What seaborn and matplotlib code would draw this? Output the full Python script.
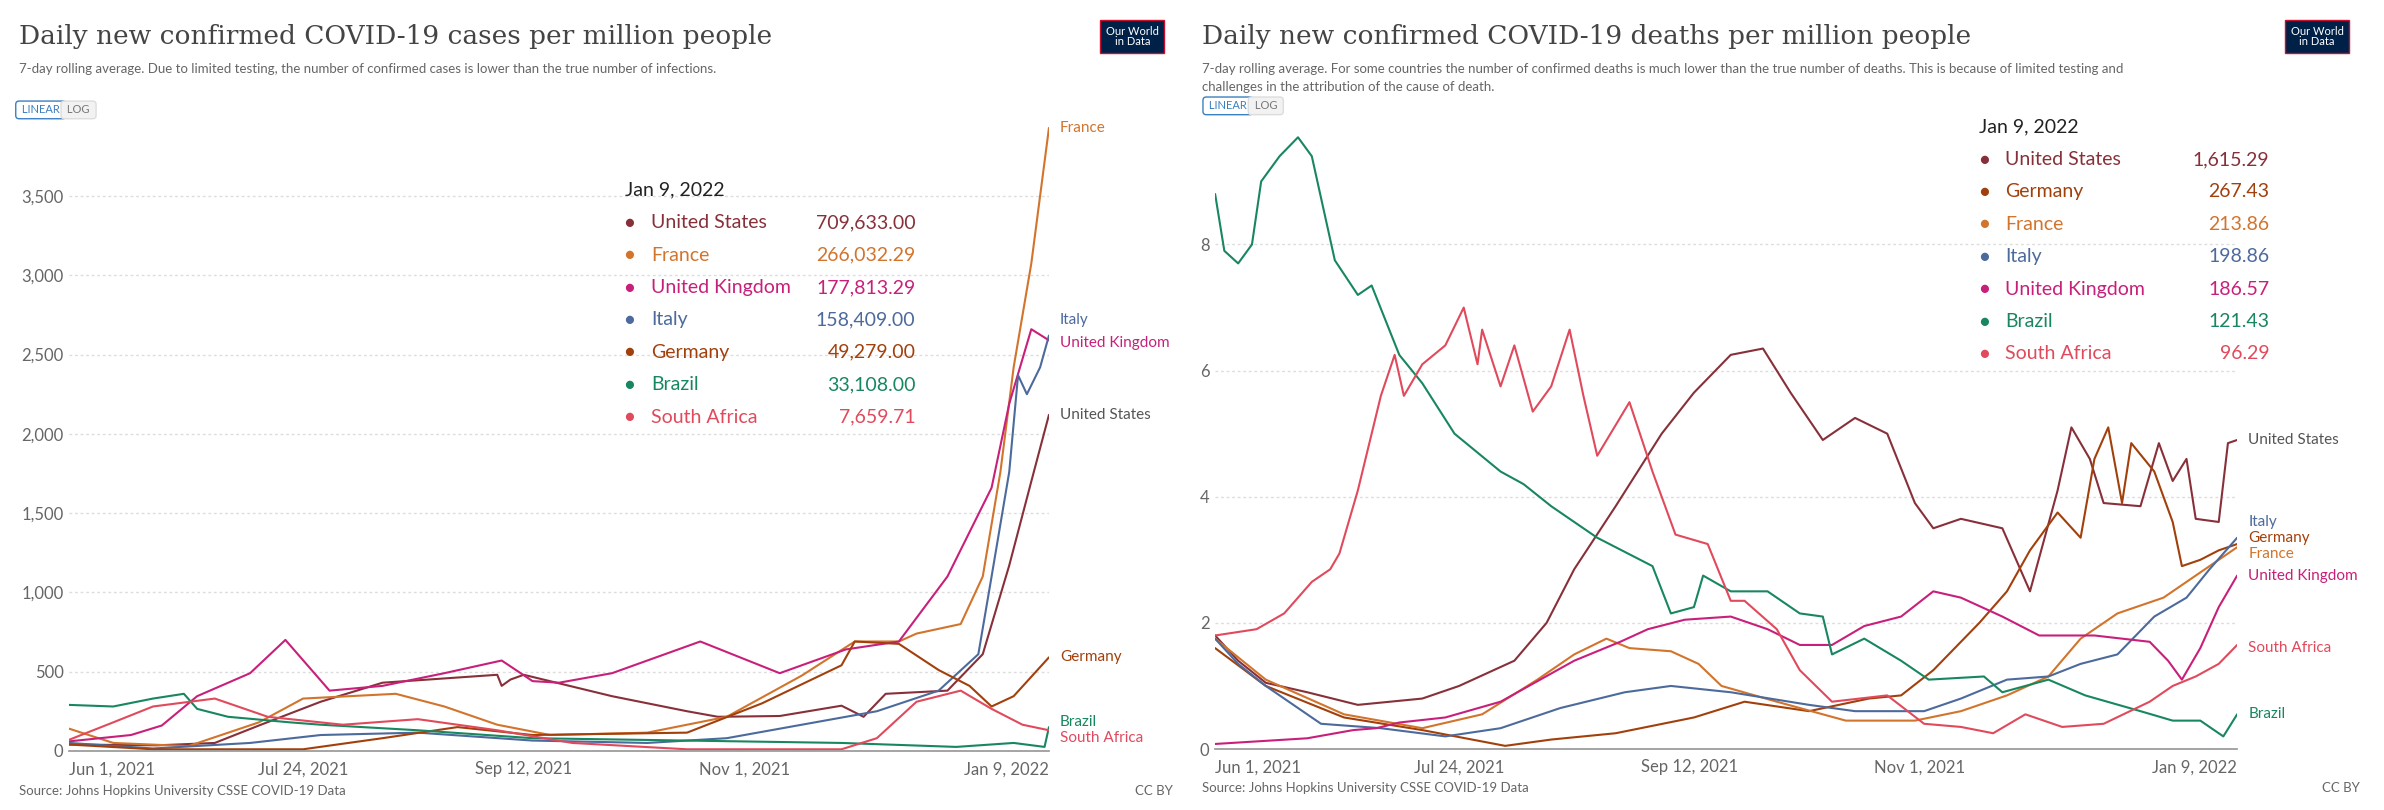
import matplotlib
matplotlib.use("Agg")
import matplotlib.pyplot as plt
import seaborn as sns
import pandas as pd
import numpy as np

START = pd.Timestamp("2021-06-01")

# ---- cases per million (day offsets from Jun 1 2021, values) ----
us_c_days = [0, 20, 33, 43, 57, 71, 97, 98, 100, 103, 123, 140, 147, 161, 175, 180, 185, 199, 207, 213, 218, 222]
us_c_vals = [40, 35, 50, 160, 310, 430, 480, 410, 450, 480, 345, 250, 215, 220, 285, 215, 360, 380, 610, 1170, 1700, 2120]
fr_c_days = [0, 10, 27, 43, 53, 74, 85, 97, 109, 131, 149, 166, 178, 188, 192, 202, 207, 211, 214, 218, 222]
fr_c_vals = [140, 50, 30, 180, 330, 360, 280, 165, 100, 115, 215, 475, 690, 690, 740, 800, 1100, 1760, 2420, 3075, 3930]
uk_c_days = [0, 7, 14, 21, 29, 41, 49, 59, 71, 85, 98, 105, 111, 123, 143, 161, 168, 176, 188, 199, 209, 213, 218, 222]
uk_c_vals = [60, 80, 100, 160, 345, 490, 700, 380, 410, 490, 570, 440, 430, 490, 690, 490, 560, 640, 690, 1100, 1660, 2190, 2660, 2590]
it_c_days = [0, 19, 41, 57, 79, 105, 131, 149, 166, 183, 197, 206, 209, 213, 215, 217, 220, 222]
it_c_vals = [50, 15, 50, 100, 115, 65, 50, 80, 165, 250, 380, 610, 1100, 1760, 2370, 2250, 2420, 2620]
de_c_days = [0, 19, 53, 71, 88, 105, 140, 157, 175, 178, 188, 197, 204, 209, 214, 222]
de_c_vals = [40, 10, 10, 80, 150, 100, 115, 300, 540, 690, 675, 510, 410, 280, 345, 590]
br_c_days = [0, 10, 19, 26, 29, 36, 50, 57, 79, 105, 140, 175, 201, 214, 221, 222]
br_c_vals = [290, 280, 330, 360, 265, 215, 180, 165, 130, 80, 65, 50, 25, 50, 25, 150]
za_c_days = [0, 10, 19, 33, 45, 62, 79, 97, 114, 140, 175, 183, 192, 202, 209, 216, 222]
za_c_vals = [70, 180, 280, 330, 215, 165, 200, 130, 50, 10, 10, 80, 310, 380, 265, 165, 130]

# ---- deaths per million ----
us_d_days = [0, 5, 11, 20, 31, 45, 53, 65, 72, 78, 87, 97, 104, 112, 119, 125, 132, 139, 146, 152, 156, 162, 171, 177, 183, 186, 190, 193, 201, 205, 208, 211, 213, 218, 220, 222]
us_d_vals = [1.8, 1.4, 1.05, 0.9, 0.7, 0.8, 1.0, 1.4, 2.0, 2.85, 3.85, 5.0, 5.65, 6.25, 6.35, 5.65, 4.9, 5.25, 5.0, 3.9, 3.5, 3.65, 3.5, 2.5, 4.1, 5.1, 4.6, 3.9, 3.85, 4.85, 4.25, 4.6, 3.65, 3.6, 4.85, 4.9]
de_d_days = [0, 11, 28, 45, 63, 73, 87, 104, 115, 129, 142, 149, 156, 166, 172, 177, 183, 188, 191, 194, 197, 199, 204, 208, 210, 214, 218, 222]
de_d_vals = [1.6, 1.0, 0.5, 0.3, 0.05, 0.15, 0.25, 0.5, 0.75, 0.6, 0.8, 0.85, 1.25, 2.0, 2.5, 3.15, 3.75, 3.35, 4.6, 5.1, 3.9, 4.85, 4.4, 3.6, 2.9, 3.0, 3.15, 3.25]
fr_d_days = [0, 11, 28, 45, 58, 70, 78, 85, 90, 99, 105, 110, 122, 137, 152, 162, 172, 181, 188, 196, 206, 213, 222]
fr_d_vals = [1.75, 1.1, 0.55, 0.33, 0.55, 1.1, 1.5, 1.75, 1.6, 1.55, 1.35, 1.0, 0.75, 0.45, 0.45, 0.6, 0.85, 1.15, 1.75, 2.15, 2.4, 2.75, 3.2]
it_d_days = [0, 5, 11, 23, 36, 50, 62, 75, 89, 99, 112, 129, 139, 154, 162, 172, 181, 188, 196, 204, 211, 216, 222]
it_d_vals = [1.75, 1.35, 1.0, 0.4, 0.33, 0.2, 0.33, 0.65, 0.9, 1.0, 0.9, 0.7, 0.6, 0.6, 0.8, 1.1, 1.15, 1.35, 1.5, 2.1, 2.4, 2.85, 3.35]
uk_d_days = [0, 20, 30, 35, 40, 50, 62, 78, 88, 94, 102, 112, 120, 127, 134, 141, 149, 156, 162, 171, 179, 191, 203, 207, 210, 214, 218, 222]
uk_d_vals = [0.08, 0.17, 0.3, 0.33, 0.42, 0.5, 0.75, 1.4, 1.7, 1.9, 2.05, 2.1, 1.9, 1.65, 1.65, 1.95, 2.1, 2.5, 2.4, 2.1, 1.8, 1.8, 1.7, 1.4, 1.1, 1.6, 2.25, 2.75]
br_d_days = [0, 2, 5, 8, 10, 14, 18, 21, 26, 31, 34, 40, 45, 52, 62, 67, 73, 83, 95, 99, 104, 106, 112, 120, 127, 132, 134, 141, 149, 155, 167, 171, 181, 189, 201, 208, 214, 219, 222]
br_d_vals = [8.8, 7.9, 7.7, 8.0, 9.0, 9.4, 9.7, 9.4, 7.75, 7.2, 7.35, 6.25, 5.8, 5.0, 4.4, 4.2, 3.85, 3.35, 2.9, 2.15, 2.25, 2.75, 2.5, 2.5, 2.15, 2.1, 1.5, 1.75, 1.4, 1.1, 1.15, 0.9, 1.1, 0.85, 0.6, 0.45, 0.45, 0.2, 0.55]
za_d_days = [0, 9, 15, 21, 25, 27, 31, 36, 39, 41, 45, 50, 54, 57, 58, 62, 65, 69, 73, 77, 80, 83, 90, 95, 100, 107, 112, 115, 122, 127, 134, 146, 154, 162, 169, 176, 184, 193, 203, 208, 213, 218, 222]
za_d_vals = [1.8, 1.9, 2.15, 2.65, 2.85, 3.1, 4.1, 5.6, 6.25, 5.6, 6.1, 6.4, 7.0, 6.1, 6.65, 5.75, 6.4, 5.35, 5.75, 6.65, 5.6, 4.65, 5.5, 4.4, 3.4, 3.25, 2.35, 2.35, 1.9, 1.25, 0.75, 0.85, 0.4, 0.35, 0.25, 0.55, 0.35, 0.4, 0.75, 1.0, 1.15, 1.35, 1.65]

COL = {"United States": "#883039", "France": "#d2742c", "United Kingdom": "#c8207a",
       "Italy": "#4c6a9c", "Germany": "#a2400c", "Brazil": "#18875f", "South Africa": "#e04a5c"}

cases_tip = ["United States", "France", "United Kingdom", "Italy", "Germany", "Brazil", "South Africa"]
cases_tip_vals = ["709,633.00", "266,032.29", "177,813.29", "158,409.00", "49,279.00", "33,108.00", "7,659.71"]
deaths_tip = ["United States", "Germany", "France", "Italy", "United Kingdom", "Brazil", "South Africa"]
deaths_tip_vals = ["1,615.29", "267.43", "213.86", "198.86", "186.57", "121.43", "96.29"]

cases = {"United States": (us_c_days, us_c_vals), "France": (fr_c_days, fr_c_vals),
         "United Kingdom": (uk_c_days, uk_c_vals), "Italy": (it_c_days, it_c_vals),
         "Germany": (de_c_days, de_c_vals), "Brazil": (br_c_days, br_c_vals),
         "South Africa": (za_c_days, za_c_vals)}
deaths = {"United States": (us_d_days, us_d_vals), "Germany": (de_d_days, de_d_vals),
          "France": (fr_d_days, fr_d_vals), "Italy": (it_d_days, it_d_vals),
          "United Kingdom": (uk_d_days, uk_d_vals), "Brazil": (br_d_days, br_d_vals),
          "South Africa": (za_d_days, za_d_vals)}

def frame(d):
    rows = []
    for k, (ds, vs) in d.items():
        for day, v in zip(ds, vs):
            rows.append((k, START + pd.Timedelta(days=day), v))
    return pd.DataFrame(rows, columns=["country", "date", "value"])

sns.set_theme(style="white")
plt.rcParams['font.family'] = ['Lato', 'DejaVu Sans']
fig = plt.figure(figsize=(23.84, 8.1), dpi=100)

ticks = [pd.Timestamp(s) for s in ["2021-06-01", "2021-07-24", "2021-09-12", "2021-11-01", "2022-01-09"]]
tlabels = ["Jun 1, 2021", "Jul 24, 2021", "Sep 12, 2021", "Nov 1, 2021", "Jan 9, 2022"]
GRAY = "#666666"

def panel(rect, df, ylim, yticks, ylabels, endlabels, title, sub, x0, tip_names, tip_vals, tip_xy):
    ax = fig.add_axes(rect)
    sns.lineplot(data=df, x="date", y="value", hue="country", palette=COL, ax=ax,
                 legend=False, linewidth=1.5, estimator=None)
    ax.set_xlim(ticks[0], ticks[-1])
    ax.set_ylim(*ylim)
    ax.set_yticks(yticks)
    ax.set_yticklabels(ylabels, color=GRAY, fontsize=12)
    ax.set_xticks(ticks)
    ax.set_xticklabels(tlabels, color=GRAY, fontsize=12)
    lbls = ax.get_xticklabels()
    lbls[0].set_ha("left"); lbls[-1].set_ha("right")
    ax.set_xlabel(""); ax.set_ylabel("")
    for s in ["top", "right", "left"]:
        ax.spines[s].set_visible(False)
    ax.spines["bottom"].set_color("#999999")
    ax.tick_params(axis="y", length=0, pad=4)
    ax.tick_params(axis="x", length=4, color="#999999")
    ax.yaxis.grid(True, linestyle=(0, (2, 2)), color="#dddddd")
    for name, yv in endlabels:
        ax.annotate(name, xy=(1.0, yv), xycoords=("axes fraction", "data"), xytext=(8, 0),
                    textcoords="offset points", fontsize=11, color=COL.get(name, GRAY) if name != "United States" else "#555555",
                    va="center")
    fig.text(x0, 0.955, title, family="DejaVu Serif", fontsize=19, color="#444444", va="center")
    for i, line in enumerate(sub):
        fig.text(x0, 0.915 - i * 0.022, line, fontsize=9.5, color="#666666", va="center")
    tx, ty = tip_xy
    fig.text(tx, ty, "Jan 9, 2022", fontsize=14, color="#222222", va="center")
    for i, (n, v) in enumerate(zip(tip_names, tip_vals)):
        yy = ty - 0.04 * (i + 1) - 0.0
        fig.text(tx, yy, "\u25CF", fontsize=12, color=COL[n], va="center")
        fig.text(tx + 0.011, yy, n, fontsize=14, color=COL[n], va="center")
        fig.text(tx + 0.122, yy, v, fontsize=14, color=COL[n], va="center", ha="right")
    return ax

panel([0.029, 0.073, 0.411, 0.773], frame(cases), (0, 3950),
      [0, 500, 1000, 1500, 2000, 2500, 3000, 3500],
      ["0", "500", "1,000", "1,500", "2,000", "2,500", "3,000", "3,500"],
      [("France", 3930), ("Italy", 2720), ("United Kingdom", 2570), ("United States", 2120),
       ("Germany", 590), ("Brazil", 180), ("South Africa", 80)],
      "Daily new confirmed COVID-19 cases per million people",
      ["7-day rolling average. Due to limited testing, the number of confirmed cases is lower than the true number of infections."],
      0.008, cases_tip, cases_tip_vals, (0.262, 0.765))

panel([0.5097, 0.0753, 0.4287, 0.763], frame(deaths), (0, 9.8),
      [0, 2, 4, 6, 8], ["0", "2", "4", "6", "8"],
      [("United States", 4.9), ("Italy", 3.6), ("Germany", 3.35), ("France", 3.1),
       ("United Kingdom", 2.75), ("South Africa", 1.6), ("Brazil", 0.55)],
      "Daily new confirmed COVID-19 deaths per million people",
      ["7-day rolling average. For some countries the number of confirmed deaths is much lower than the true number of deaths. This is because of limited testing and",
       "challenges in the attribution of the cause of death."],
      0.504, deaths_tip, deaths_tip_vals, (0.83, 0.843))

for x0, y0 in [(0.008, 0.912), (0.504, 0.89)]:
    pass
fig.text(0.008, 0.86, " LINEAR ", fontsize=8, color="#3a7fc1",
         bbox=dict(boxstyle="round,pad=0.3", fc="white", ec="#3a7fc1"))
fig.text(0.027, 0.86, " LOG ", fontsize=8, color="#777777",
         bbox=dict(boxstyle="round,pad=0.3", fc="#f2f2f2", ec="#dddddd"))
fig.text(0.506, 0.865, " LINEAR ", fontsize=8, color="#3a7fc1",
         bbox=dict(boxstyle="round,pad=0.3", fc="white", ec="#3a7fc1"))
fig.text(0.525, 0.865, " LOG ", fontsize=8, color="#777777",
         bbox=dict(boxstyle="round,pad=0.3", fc="#f2f2f2", ec="#dddddd"))
for xx in [0.475, 0.972]:
    fig.text(xx, 0.955, "Our World\nin Data", fontsize=8, color="white", ha="center", va="center",
             linespacing=0.95,
             bbox=dict(boxstyle="square,pad=0.5", fc="#002147", ec="#c8102e"))
fig.text(0.008, 0.018, "Source: Johns Hopkins University CSSE COVID-19 Data", fontsize=9.5, color="#666666")
fig.text(0.504, 0.022, "Source: Johns Hopkins University CSSE COVID-19 Data", fontsize=9.5, color="#666666")
fig.text(0.492, 0.018, "CC BY", fontsize=9.5, color="#666666", ha="right")
fig.text(0.99, 0.022, "CC BY", fontsize=9.5, color="#666666", ha="right")

fig.savefig("out.png", dpi=100, facecolor="white")
